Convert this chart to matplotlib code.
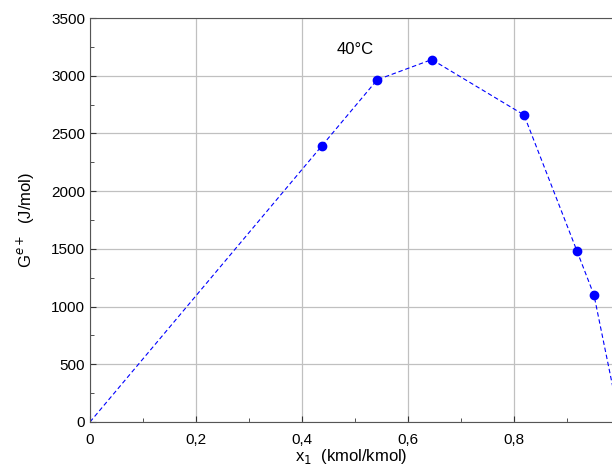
import numpy as np
import matplotlib.pyplot as plt
from matplotlib.ticker import MultipleLocator, FuncFormatter

plt.rcParams['font.family'] = ['Liberation Sans', 'DejaVu Sans']

# data
x_line = [0.0, 0.438, 0.542, 0.645, 0.819, 0.919, 0.951, 1.0]
g_line = [0, 2395, 2965, 3140, 2660, 1480, 1100, 0]
x_pts = [0.438, 0.542, 0.645, 0.819, 0.919, 0.951]
g_pts = [2395, 2965, 3140, 2660, 1480, 1100]

fig = plt.figure(figsize=(6.12, 4.68), dpi=100)
ax = fig.add_axes([0.147, 0.0983, 0.853, 0.8632])

ax.plot(x_line, g_line, '--', color='blue', lw=0.8, dashes=(4, 2.5))
ax.plot(x_pts, g_pts, 'o', color='blue', ms=6)

ax.set_xlim(0, 0.985)
ax.set_ylim(0, 3500)
ax.xaxis.set_major_locator(MultipleLocator(0.2))
ax.xaxis.set_minor_locator(MultipleLocator(0.1))
ax.yaxis.set_major_locator(MultipleLocator(500))
ax.yaxis.set_minor_locator(MultipleLocator(250))
ax.xaxis.set_major_formatter(FuncFormatter(
    lambda v, p: '0' if v == 0 else f'{v:.1f}'.replace('.', ',')))
ax.tick_params(which='both', direction='in', labelsize=11, color='#333333')
ax.tick_params(which='major', length=4)
ax.tick_params(which='minor', length=3)
ax.tick_params(axis='x', pad=8)
ax.grid(True, which='major', color='#c0c0c0', lw=0.9)
ax.set_axisbelow(True)

for s in ['left', 'bottom', 'top']:
    ax.spines[s].set_color('#555555')
ax.spines['right'].set_visible(False)

ax.text(0.5, 3230, '40°C', fontsize=12, ha='center', va='center')
ax.set_xlabel('x$_1$  (kmol/kmol)', fontsize=12, labelpad=0)
ax.set_ylabel('G$^{e+}$  (J/mol)', fontsize=12, labelpad=10)

fig.savefig('out.png', dpi=100)
